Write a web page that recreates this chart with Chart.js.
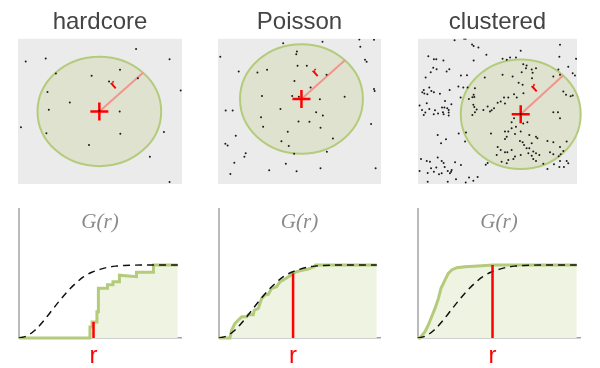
<!DOCTYPE html>
<html>
<head>
<meta charset="utf-8">
<script src="https://cdn.jsdelivr.net/npm/chart.js@4.4.1/dist/chart.umd.min.js"></script>
<style>
  html, body { margin: 0; padding: 0; background: #fff; }
  body { width: 600px; height: 368px; position: relative; overflow: hidden; }
  canvas { position: absolute; }
</style>
</head>
<body>
<canvas id="pattern0" width="200" height="190" style="left:0;top:0"></canvas>
<canvas id="pattern1" width="200" height="190" style="left:200px;top:0"></canvas>
<canvas id="pattern2" width="200" height="190" style="left:400px;top:0"></canvas>
<canvas id="gfunc0" width="200" height="166" style="left:0;top:208px"></canvas>
<canvas id="gfunc1" width="200" height="166" style="left:200px;top:208px"></canvas>
<canvas id="gfunc2" width="200" height="166" style="left:400px;top:208px"></canvas>
<script>
// --- data ---
const panelNames = ["hardcore", "Poisson", "clustered"];

const hardcorePoints = [
  [0.047,0.844],[0.169,0.865],[0.720,0.929],[0.924,0.860],[0.231,0.761],[0.449,0.745],
  [0.622,0.787],[0.555,0.706],[0.731,0.729],[0.992,0.644],[0.180,0.633],[0.316,0.562],
  [0.188,0.511],[0.496,0.505],[0.620,0.500],[0.018,0.390],[0.173,0.349],[0.624,0.346],
  [0.890,0.358],[0.433,0.268],[0.804,0.188],[0.924,0.014]
];

const poissonPoints = [
  [0.400,0.970],[0.641,0.979],[0.867,0.995],[0.957,0.993],[0.873,0.945],[0.014,0.876],
  [0.484,0.913],[0.480,0.894],[0.902,0.856],[0.912,0.842],[0.127,0.775],[0.242,0.768],
  [0.301,0.787],[0.488,0.814],[0.545,0.814],[0.666,0.752],[0.469,0.709],[0.957,0.654],
  [0.961,0.640],[0.568,0.665],[0.270,0.606],[0.455,0.606],[0.496,0.601],[0.777,0.601],
  [0.625,0.583],[0.047,0.507],[0.090,0.507],[0.383,0.516],[0.602,0.495],[0.643,0.472],
  [0.264,0.459],[0.277,0.394],[0.494,0.431],[0.561,0.429],[0.629,0.388],[0.939,0.413],
  [0.109,0.333],[0.428,0.360],[0.705,0.314],[0.389,0.294],[0.434,0.261],[0.045,0.278],
  [0.059,0.266],[0.467,0.209],[0.668,0.222],[0.170,0.211],[0.162,0.188],[0.100,0.147],
  [0.416,0.140],[0.076,0.069],[0.314,0.094],[0.482,0.087],[0.629,0.108],[0.967,0.108]
];

const clusteredPoints = [
  [0.23,0.99],[0.29,1.0],[0.30,1.0],[0.34,0.96],[0.35,0.95],[0.38,0.94],[0.43,0.89],
  [0.065,0.88],[0.10,0.86],[0.115,0.86],[0.16,0.85],[0.35,0.85],[0.096,0.80],[0.117,0.79],
  [0.08,0.77],[0.18,0.775],[0.197,0.79],[0.048,0.733],[0.27,0.747],[0.308,0.749],[0.42,0.733],
  [0.254,0.671],[0.285,0.664],[0.312,0.664],[0.358,0.66],[0.036,0.648],[0.071,0.664],
  [0.084,0.641],[0.027,0.632],[0.04,0.623],[0.059,0.618],[0.10,0.632],[0.138,0.621],
  [0.199,0.648],[0.35,0.614],[0.342,0.598],[0.354,0.60],[0.32,0.586],[0.268,0.595],
  [0.17,0.572],[0.21,0.549],[0.055,0.556],[0.01,0.54],[0.071,0.517],[0.025,0.51],
  [0.046,0.492],[0.036,0.476],[0.107,0.508],[0.126,0.485],[0.151,0.526],[0.166,0.526],
  [0.184,0.522],[0.193,0.51],[0.157,0.494],[0.193,0.492],[0.161,0.48],[0.193,0.471],
  [0.099,0.48],[0.348,0.545],[0.354,0.531],[0.369,0.513],[0.358,0.494],[0.342,0.476],
  [0.411,0.51],[0.438,0.533],[0.453,0.499],[0.463,0.508],[0.478,0.522],[0.501,0.559],
  [0.124,0.338],[0.256,0.347],[0.302,0.354],[0.176,0.308],[0.145,0.28],[0.296,0.292],
  [0.459,0.347],[0.501,0.255],[0.495,0.20],[0.019,0.172],[0.055,0.159],[0.075,0.154],
  [0.124,0.182],[0.149,0.159],[0.161,0.145],[0.168,0.117],[0.187,0.09],[0.208,0.085],
  [0.212,0.097],[0.233,0.149],[0.27,0.131],[0.426,0.133],[0.438,0.145],[0.01,0.09],
  [0.061,0.076],[0.082,0.108],[0.10,0.085],[0.115,0.113],[0.132,0.067],[0.149,0.074],
  [0.201,0.074],[0.239,0.032],[0.321,0.044],[0.348,0.023],[0.375,0.048],[0.061,0.016],
  [0.187,0.016],[0.30,0.011],
  [0.646,0.917],[0.893,0.959],[0.532,0.862],[0.558,0.855],[0.579,0.871],[0.616,0.871],
  [0.889,0.876],[0.994,0.862],[0.662,0.825],[0.683,0.816],[0.679,0.798],[0.715,0.789],
  [0.742,0.798],[0.652,0.770],[0.721,0.766],[0.532,0.752],[0.595,0.740],[0.883,0.789],
  [0.893,0.752],[0.851,0.740],[0.945,0.807],[0.973,0.763],[0.987,0.747],[0.717,0.729],
  [0.633,0.697],[0.658,0.683],[0.663,0.625],[0.604,0.618],[0.541,0.595],[0.568,0.595],
  [0.621,0.595],[0.914,0.637],[0.931,0.614],[0.960,0.605],[0.973,0.609],[0.520,0.568],
  [0.547,0.554],[0.851,0.494],[0.880,0.494],[0.893,0.453],[0.604,0.453],[0.688,0.425],
  [0.662,0.416],[0.589,0.425],[0.616,0.395],[0.589,0.384],[0.547,0.361],[0.568,0.361],
  [0.646,0.361],[0.700,0.338],[0.742,0.326],[0.610,0.345],[0.715,0.280],[0.751,0.315],
  [0.641,0.297],[0.658,0.287],[0.667,0.269],[0.683,0.246],[0.700,0.246],[0.725,0.223],
  [0.694,0.211],[0.742,0.211],[0.814,0.297],[0.851,0.287],[0.935,0.292],[0.893,0.255],
  [0.558,0.326],[0.547,0.310],[0.520,0.234],[0.547,0.218],[0.562,0.218],[0.589,0.234],
  [0.600,0.172],[0.610,0.189],[0.646,0.200],[0.715,0.195],[0.763,0.200],[0.830,0.218],
  [0.851,0.205],[0.885,0.191],[0.897,0.205],[0.914,0.228],[0.526,0.154],[0.558,0.143],
  [0.568,0.166],[0.725,0.172],[0.742,0.159],[0.788,0.140],[0.855,0.136],[0.893,0.159],
  [0.935,0.159],[0.945,0.143],[0.918,0.117],[0.889,0.117],[0.814,0.103],[0.646,0.482]
];

const circleCenters = [[0.496, 0.5], [0.512, 0.585], [0.646, 0.48]];
const circleRadius = 0.377;
const rLabelOffset = [0.087, 0.181];

const gTitle = "G(r)";
const rTickLabel = "r";
const rValue = 0.46;
const poissonCdfX = [0, 0.05, 0.1, 0.15, 0.2, 0.25, 0.3, 0.35, 0.4, 0.45, 0.5,
                     0.55, 0.6, 0.65, 0.7, 0.75, 0.8, 0.85, 0.9, 0.95, 0.98];
const poissonCdfG = [0, 0.03, 0.11, 0.23, 0.37, 0.51, 0.64, 0.75, 0.84, 0.90, 0.94,
                     0.97, 0.985, 0.993, 0.997, 1, 1, 1, 1, 1, 1];
const hardcoreG = [
  [0,0],[0.438,0],[0.438,0.15],[0.451,0.15],[0.451,0.22],[0.481,0.22],[0.481,0.36],
  [0.49,0.36],[0.49,0.68],[0.546,0.68],[0.546,0.73],[0.58,0.73],[0.58,0.77],[0.62,0.77],
  [0.62,0.86],[0.725,0.84],[0.725,0.90],[0.83,0.90],[0.83,1.0],[0.98,1.0]
];
const poissonG = [
  [0,0],[0.068,0],[0.079,0.11],[0.099,0.20],[0.12,0.247],[0.141,0.29],[0.172,0.29],
  [0.182,0.32],[0.213,0.32],[0.219,0.38],[0.244,0.406],[0.265,0.543],[0.286,0.589],
  [0.306,0.598],[0.327,0.68],[0.358,0.703],[0.379,0.772],[0.41,0.808],[0.441,0.854],
  [0.462,0.886],[0.482,0.909],[0.524,0.932],[0.555,0.945],[0.59,0.975],[0.60,1.0],[0.98,1.0]
];
const clusteredG = [
  [0,0],[0.012,0],[0.043,0.087],[0.064,0.178],[0.084,0.292],[0.105,0.406],[0.126,0.543],
  [0.142,0.68],[0.167,0.795],[0.187,0.886],[0.208,0.932],[0.239,0.963],[0.29,0.977],
  [0.393,0.991],[0.465,1.0],[0.98,1.0]
];
const empiricalAtR = [0.22, 0.886, 1.0];

// --- styling ---
const GREEN = "#b4cb7c";
const GREEN_FILL = "#eff3e2";
const CIRCLE_FILL = "#dee2cf";
const PANEL_GRAY = "#ebebeb";
const RED = "#ff0000";
const SALMON = "#f2948c";
const AXIS_GRAY = "#a3a3a3";

const pointSets = [hardcorePoints, poissonPoints, clusteredPoints];
const gSets = [hardcoreG, poissonG, clusteredG];
const topPads = [[18, 18], [18, 19], [18, 23]];
const bottomPads = [[19, 19], [19, 20], [18, 20]];

const toXY = (arr) => arr.map(([x, y]) => ({ x, y }));

// gray square, sampling circle and the little "r" next to the radius
const windowDecor = {
  id: "windowDecor",
  beforeDatasetsDraw(chart, args, opts) {
    const { ctx, chartArea: a, scales: { x, y } } = chart;
    const c = opts.center;
    const cx = x.getPixelForValue(c[0]);
    const cy = y.getPixelForValue(c[1]);
    const rx = x.getPixelForValue(c[0] + opts.radius) - cx;
    const ry = cy - y.getPixelForValue(c[1] + opts.radius);
    ctx.save();
    ctx.fillStyle = PANEL_GRAY;
    ctx.fillRect(a.left, a.top, a.width, a.height);
    ctx.beginPath();
    ctx.ellipse(cx, cy, rx, ry, 0, 0, Math.PI * 2);
    ctx.fillStyle = CIRCLE_FILL;
    ctx.fill();
    ctx.lineWidth = 2;
    ctx.strokeStyle = GREEN;
    ctx.stroke();
    // label along the radius
    const ex = x.getPixelForValue(c[0] + opts.radius * Math.SQRT1_2);
    const ey = y.getPixelForValue(c[1] + opts.radius * Math.SQRT1_2);
    const lx = x.getPixelForValue(c[0] + rLabelOffset[0]);
    const ly = y.getPixelForValue(c[1] + rLabelOffset[1]);
    ctx.translate(lx, ly);
    ctx.rotate(Math.atan2(ey - cy, ex - cx));
    ctx.fillStyle = RED;
    ctx.font = "bold 14px 'Liberation Sans'";
    ctx.textAlign = "center";
    ctx.textBaseline = "middle";
    ctx.fillText(rTickLabel, 0, 0);
    ctx.restore();
  }
};

// vertical axis running up past the G(r) title
const yAxisLine = {
  id: "yAxisLine",
  beforeDatasetsDraw(chart) {
    const { ctx, chartArea: a } = chart;
    ctx.save();
    ctx.strokeStyle = AXIS_GRAY;
    ctx.lineWidth = 1.5;
    ctx.beginPath();
    ctx.moveTo(a.left, 0);
    ctx.lineTo(a.left, a.bottom);
    ctx.stroke();
    ctx.restore();
  }
};

panelNames.forEach((name, i) => {
  const c = circleCenters[i];
  new Chart(document.getElementById("pattern" + i), {
    type: "scatter",
    data: {
      datasets: [
        {
          data: toXY(pointSets[i]),
          pointRadius: 1.0,
          pointBackgroundColor: "#1a1a1a",
          pointBorderWidth: 0
        },
        {
          data: [{ x: c[0], y: c[1] }],
          pointStyle: "cross",
          pointRadius: 9,
          pointBorderColor: RED,
          pointBorderWidth: 2.5
        },
        {
          data: [
            { x: c[0], y: c[1] },
            { x: c[0] + circleRadius * Math.SQRT1_2, y: c[1] + circleRadius * Math.SQRT1_2 }
          ],
          showLine: true,
          borderColor: SALMON,
          borderWidth: 2,
          pointRadius: 0
        }
      ]
    },
    options: {
      responsive: false,
      animation: false,
      devicePixelRatio: 1,
      events: [],
      layout: { autoPadding: false, padding: { left: topPads[i][0], right: topPads[i][1], top: 0, bottom: 6 } },
      scales: {
        x: { display: false, min: 0, max: 1 },
        y: { display: false, min: 0, max: 1 }
      },
      plugins: {
        legend: { display: false },
        tooltip: { enabled: false },
        title: {
          display: true,
          text: name,
          color: "#444",
          font: { family: "'Liberation Sans', Arial, sans-serif", size: 24, weight: "normal", lineHeight: 1.2 },
          padding: { top: 8, bottom: 2 }
        },
        windowDecor: { center: c, radius: circleRadius }
      }
    },
    plugins: [windowDecor]
  });

  new Chart(document.getElementById("gfunc" + i), {
    type: "line",
    data: {
      datasets: [
        {
          data: [{ x: rValue, y: 0 }, { x: rValue, y: empiricalAtR[i] }],
          borderColor: RED,
          borderWidth: 2.5,
          pointRadius: 0,
          fill: false,
          clip: false
        },
        {
          data: poissonCdfX.map((x, k) => ({ x, y: poissonCdfG[k] })),
          borderColor: "#111",
          borderWidth: 1.5,
          borderDash: [7, 5],
          cubicInterpolationMode: "monotone",
          pointRadius: 0,
          fill: false
        },
        {
          data: toXY(gSets[i]),
          borderColor: GREEN,
          borderWidth: 3,
          backgroundColor: GREEN_FILL,
          fill: "origin",
          pointRadius: 0,
          clip: false
        }
      ]
    },
    options: {
      responsive: false,
      animation: false,
      devicePixelRatio: 1,
      events: [],
      layout: { autoPadding: false, padding: { left: bottomPads[i][0], right: bottomPads[i][1], top: 0, bottom: 0 } },
      scales: {
        x: {
          type: "linear",
          min: 0,
          max: 1,
          grid: { display: false, drawTicks: false },
          border: { display: true, color: AXIS_GRAY, width: 1.5 },
          afterBuildTicks: (scale) => { scale.ticks = [{ value: rValue }]; },
          ticks: {
            callback: () => rTickLabel,
            color: RED,
            padding: 6,
            maxRotation: 0,
            autoSkip: false,
            font: { family: "'Liberation Sans', Arial, sans-serif", size: 24, lineHeight: 1 }
          }
        },
        y: { display: false, min: 0, max: 1.326 }
      },
      plugins: {
        legend: { display: false },
        tooltip: { enabled: false },
        title: {
          display: true,
          text: gTitle,
          color: "#8a8a8a",
          font: { family: "'Liberation Serif', 'DejaVu Serif', serif", style: "italic", size: 21, weight: "normal", lineHeight: 1.2 },
          padding: { top: 2, bottom: 6 }
        }
      }
    },
    plugins: [yAxisLine]
  });
});
</script>
</body>
</html>
